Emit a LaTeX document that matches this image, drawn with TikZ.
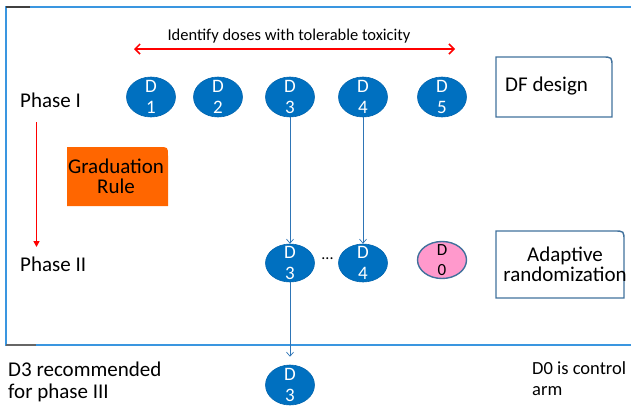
\documentclass[tikz,border=0pt]{standalone}
\usepackage{fontspec}
\setmainfont{Carlito}
\usetikzlibrary{shapes.geometric,arrows.meta,calc}
\definecolor{doseblue}{HTML}{0070C0}
\definecolor{doseedge}{HTML}{0064AE}
\definecolor{linkblue}{HTML}{2E75B6}
\definecolor{framecol}{HTML}{3A96E0}
\definecolor{boxedge}{HTML}{41719C}
\definecolor{gradorange}{HTML}{FF6600}
\definecolor{ctrlpink}{HTML}{FF99CC}
\tikzset{
  dose/.style={ellipse, fill=doseblue, draw=doseedge, line width=0.6pt, minimum width=49pt, minimum height=40pt, inner sep=0pt},
  ctrl/.style={ellipse, fill=ctrlpink, draw=boxedge, line width=1.4pt, minimum width=49pt, minimum height=37pt, inner sep=0pt},
  dosetext/.style={text=white, font=\fontsize{19}{21}\selectfont, align=center, inner sep=0pt},
  ctrltext/.style={text=black, font=\fontsize{17}{20}\selectfont, align=center, inner sep=0pt},
  link/.style={draw=linkblue, line width=0.7pt, -{Straight Barb[length=4pt,width=7pt]}},
  bigtext/.style={font=\fontsize{21}{21}\selectfont, inner sep=0pt},
  plain/.style={inner sep=0pt, outer sep=0pt},
}
\begin{document}
\begin{tikzpicture}[x=1pt,y=-1pt]
\useasboundingbox (0,0) rectangle (631,405);
% outer frame
\draw[framecol, line width=1.1pt] (6,7) rectangle (660,345);
\draw[black!75, line width=1.1pt] (6,7) -- (30,7);
\draw[black!60, line width=1.1pt] (6,345) -- (36,345);

% top label and red double arrow
\node[font=\fontsize{16.5}{18}\selectfont, inner sep=0pt] (ident) at (289,36) {Identify doses with tolerable toxicity};
\coordinate (ra) at (134,49);
\coordinate (rb) at (455,49);
\draw[red, line width=1.5pt, {Straight Barb[length=5pt,width=10pt]}-{Straight Barb[length=5pt,width=10pt]}] (ra) -- (rb);

% phase labels
\node[bigtext, anchor=west] (ph1) at (20,100) {Phase I};
\node[bigtext, anchor=west] (ph2) at (20,264) {Phase II};
\coordinate (va) at (36.5,122);
\coordinate (vb) at (36.5,247);
\draw[red, line width=1.7pt, -{Triangle[length=6pt,width=6pt]}] (va) -- (vb);

% phase I doses
\node[dose] (d1) at (151,97) {};
\node[dose] (d2) at (218,97) {};
\node[dose] (d3) at (290,97) {};
\node[dose] (d4) at (363,97) {};
\node[dose] (d5) at (442,97) {};
\node[dosetext] (t1) at (d1) {D\\1};
\node[dosetext] (t2) at (d2) {D\\2};
\node[dosetext] (t3) at (d3) {D\\3};
\node[dosetext] (t4) at (d4) {D\\4};
\node[dosetext] (t5) at (d5) {D\\5};

% phase II doses
\node[dose, minimum height=38pt] (e3) at (290,263) {};
\node[dose, minimum height=38pt] (e4) at (363,263) {};
\node[ctrl] (e0) at (442,260) {};
\node[dosetext] (u3) at (e3) {D\\3};
\node[dosetext] (u4) at (e4) {D\\4};
\node[ctrltext] (u0) at (e0) {D\\0};
\node[font=\fontsize{16}{16}\selectfont, inner sep=0pt] (dots) at (327.5,259) {...};

% phase III
\node[dose] (f3) at (290,385) {};
\node[dosetext] (w3) at (f3) {D\\3};

% connectors
\draw[link] (d3.south) -- (e3.north);
\draw[link] (d4.south) -- (e4.north);
\draw[link] (e3.south) -- ([yshift=8pt]f3.north);

% DF design box
\node[plain, minimum width=116pt, minimum height=60pt, anchor=north west] (df) at (496,57) {};
\draw[boxedge, line width=1.4pt] (df.south west) -- (df.north west) -- ([xshift=-10pt]df.north east) .. controls (df.north east) .. ([yshift=-10pt]df.north east) -- (df.south east) -- cycle;
\node[bigtext, anchor=west] (dft) at (505,86) {DF design};

% adaptive randomization box
\node[plain, minimum width=128pt, minimum height=67pt, anchor=north west] (ar) at (496,231) {};
\draw[boxedge, line width=1.4pt] (ar.south west) -- (ar.north west) -- ([xshift=-10pt]ar.north east) .. controls (ar.north east) .. ([yshift=-10pt]ar.north east) -- (ar.south east) -- cycle;
\node[font=\fontsize{21}{20}\selectfont, align=center, inner sep=0pt] (art) at (565,264) {Adaptive\\randomization};

% graduation rule
\node[plain, minimum width=101pt, minimum height=59pt, anchor=north west] (gr) at (67,147) {};
\fill[gradorange] (gr.south west) -- (gr.north west) -- ([xshift=-9pt]gr.north east) .. controls (gr.north east) .. ([yshift=-9pt]gr.north east) -- (gr.south east) -- cycle;
\node[font=\fontsize{21}{20}\selectfont, align=center, inner sep=0pt] (grt) at (116,176) {Graduation\\Rule};

% bottom notes
\node[font=\fontsize{21}{22}\selectfont, align=left, inner sep=0pt, anchor=north west] (rec) at (8,362) {D3 recommended\\for phase III};
\node[font=\fontsize{18.5}{21}\selectfont, align=left, inner sep=0pt, anchor=north west] (ctl) at (532,361) {D0 is control\\arm};
\end{tikzpicture}
\end{document}
